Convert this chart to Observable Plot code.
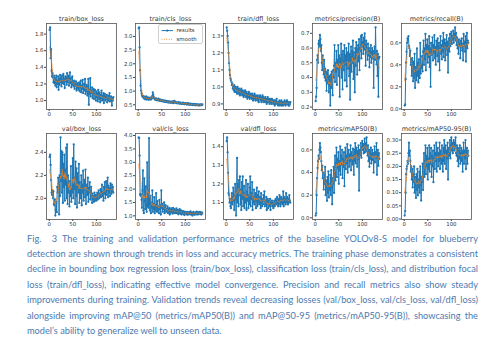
<!DOCTYPE html>
<html><head><meta charset="utf-8">
<script src="https://cdn.jsdelivr.net/npm/d3@7"></script>
<script src="https://cdn.jsdelivr.net/npm/@observablehq/plot@0.6"></script>
<style>
html,body{margin:0;padding:0;background:#fff;}
#wrap{position:relative;width:502px;height:346px;overflow:hidden;background:#fff;}
.panel{position:absolute;}
.cap{position:absolute;left:27px;font-family:Lato,"Open Sans",sans-serif;font-size:9.8px;color:#4d7ab0;white-space:nowrap;transform-origin:0 50%;line-height:15.4px;}
</style></head><body><div id="wrap"></div>
<script>
const titles = ["train/box_loss","train/cls_loss","train/dfl_loss","metrics/precision(B)","metrics/recall(B)",
                "val/box_loss","val/cls_loss","val/dfl_loss","metrics/mAP50(B)","metrics/mAP50-95(B)"];

const trainBox = [1.85,1.88,1.51,1.62,1.36,1.29,1.33,1.28,1.22,1.30,
1.21,1.27,1.18,1.25,1.30,1.16,1.24,1.20,1.29,1.13,
1.26,1.19,1.31,1.22,1.27,1.17,1.30,1.24,1.21,1.32,
1.20,1.26,1.15,1.29,1.23,1.28,1.19,1.33,1.22,1.26,
1.30,1.18,1.25,1.34,1.21,1.27,1.16,1.23,1.29,1.19,
1.22,1.17,1.24,1.14,1.20,1.18,1.23,1.12,1.19,1.15,
1.21,1.13,1.17,1.22,1.11,1.16,1.24,1.10,1.18,1.14,
1.25,1.09,1.15,1.20,1.12,1.26,1.08,1.14,1.19,1.11,
1.06,1.17,1.26,0.95,1.13,1.08,1.27,1.05,1.12,1.09,
1.16,1.03,1.10,1.14,1.02,1.08,1.13,1.06,1.00,1.11,
1.04,1.09,0.99,1.13,1.05,1.02,1.10,0.98,1.07,1.03,
1.12,1.00,1.06,1.01,1.09,0.97,1.04,1.08,1.00,1.05,
1.02,1.07,0.98,1.03,1.06,1.00,1.04,1.09,0.99,1.02,
1.05,1.01,0.94,1.03,1.00,1.04];

const trainCls = [3.30,3.33,2.60,1.76,1.20,1.02,0.92,0.85,0.80,0.78,
0.82,0.75,0.72,0.79,0.70,0.74,0.81,0.69,0.73,0.77,
0.71,0.68,0.76,0.72,0.70,0.74,0.69,0.78,0.73,0.82,
0.95,0.86,0.78,0.74,0.70,0.72,0.68,0.73,0.67,0.71,
0.69,0.66,0.72,0.68,0.65,0.70,0.64,0.68,0.66,0.63,
0.67,0.64,0.62,0.66,0.63,0.61,0.65,0.62,0.60,0.64,
0.61,0.59,0.63,0.60,0.58,0.62,0.59,0.61,0.57,0.60,
0.58,0.62,0.57,0.59,0.56,0.64,0.60,0.58,0.61,0.57,
0.59,0.56,0.58,0.55,0.57,0.60,0.56,0.54,0.58,0.55,
0.57,0.53,0.56,0.54,0.58,0.53,0.55,0.52,0.56,0.54,
0.53,0.55,0.51,0.54,0.52,0.56,0.51,0.53,0.50,0.54,
0.52,0.50,0.53,0.51,0.49,0.52,0.50,0.53,0.49,0.51,
0.50,0.48,0.52,0.50,0.49,0.51,0.48,0.50,0.47,0.50,
0.49,0.51,0.48,0.50,0.49,0.51];

const trainDfl = [1.35,1.33,1.30,1.26,1.20,1.14,1.10,1.07,1.05,1.04,
1.03,1.01,1.02,0.99,1.00,0.98,1.01,0.97,0.99,1.00,
0.97,0.99,0.96,1.00,0.98,0.96,0.99,0.97,0.95,0.98,
0.96,0.99,0.97,0.95,0.98,0.96,0.94,0.97,0.95,0.98,
0.96,0.94,0.97,0.95,0.93,0.96,0.94,0.97,0.95,0.93,
0.96,0.94,0.95,0.93,0.96,0.94,0.92,0.95,0.93,0.96,
0.94,0.92,0.95,0.93,0.94,0.92,0.95,0.93,0.91,0.94,
0.93,0.95,0.92,0.94,0.91,0.93,0.95,0.92,0.94,0.91,
0.93,0.92,0.94,0.91,0.93,0.90,0.92,0.94,0.91,0.93,
0.92,0.90,0.93,0.91,0.92,0.90,0.93,0.91,0.92,0.90,
0.92,0.91,0.89,0.92,0.90,0.91,0.93,0.90,0.91,0.89,
0.91,0.90,0.92,0.89,0.91,0.90,0.92,0.89,0.91,0.90,
0.89,0.91,0.90,0.92,0.90,0.89,0.91,0.90,0.92,0.91,
0.90,0.89,0.91,0.89,0.90,0.91];

const precision = [0.24,0.27,0.33,0.52,0.55,0.50,0.63,0.65,0.61,0.69,
0.66,0.58,0.62,0.50,0.45,0.55,0.48,0.42,0.52,0.40,
0.46,0.38,0.44,0.31,0.43,0.36,0.45,0.40,0.30,0.41,
0.35,0.21,0.42,0.33,0.44,0.38,0.28,0.45,0.40,0.48,
0.62,0.37,0.50,0.44,0.58,0.35,0.52,0.46,0.62,0.41,
0.55,0.27,0.53,0.47,0.63,0.40,0.56,0.32,0.58,0.50,
0.45,0.62,0.38,0.55,0.49,0.60,0.34,0.57,0.52,0.46,
0.63,0.41,0.56,0.25,0.54,0.61,0.44,0.58,0.50,0.65,
0.39,0.57,0.53,0.30,0.60,0.48,0.64,0.55,0.42,0.59,
0.62,0.51,0.66,0.45,0.60,0.58,0.68,0.53,0.69,0.61,
0.64,0.56,0.67,0.59,0.70,0.62,0.48,0.65,0.60,0.57,
0.52,0.63,0.55,0.60,0.47,0.58,0.54,0.62,0.50,0.57,
0.60,0.53,0.58,0.33,0.56,0.61,0.52,0.74,0.55,0.49,
0.58,0.41,0.56,0.27,0.53,0.54];

const recall = [0.03,0.04,0.27,0.42,0.52,0.60,0.64,0.62,0.66,0.57,
0.55,0.48,0.53,0.40,0.45,0.30,0.46,0.35,0.25,0.43,
0.28,0.50,0.19,0.38,0.33,0.26,0.55,0.30,0.42,0.24,
0.45,0.35,0.28,0.60,0.32,0.40,0.37,0.48,0.34,0.52,
0.62,0.40,0.55,0.45,0.68,0.35,0.58,0.50,0.63,0.42,
0.57,0.47,0.66,0.38,0.55,0.20,0.60,0.49,0.53,0.65,
0.44,0.58,0.51,0.67,0.46,0.56,0.40,0.62,0.53,0.48,
0.64,0.43,0.57,0.60,0.35,0.55,0.66,0.50,0.58,0.45,
0.62,0.52,0.69,0.47,0.56,0.63,0.44,0.60,0.54,0.67,
0.49,0.61,0.33,0.58,0.64,0.52,0.68,0.57,0.62,0.70,
0.59,0.66,0.63,0.71,0.60,0.68,0.64,0.74,0.62,0.69,
0.58,0.65,0.55,0.61,0.50,0.63,0.57,0.60,0.46,0.62,
0.56,0.64,0.53,0.59,0.44,0.68,0.57,0.61,0.52,0.66,
0.43,0.58,0.69,0.55,0.62,0.60];

const valBox = [2.36,2.38,2.29,2.16,2.05,2.03,2.07,2.00,2.06,1.95,
1.94,1.99,1.85,1.90,1.97,1.88,2.10,2.05,2.18,2.13,
1.86,2.20,2.02,2.53,2.15,2.41,2.05,2.40,1.96,2.30,
2.10,2.38,1.98,2.25,2.12,2.44,2.00,2.47,1.95,2.20,
2.05,2.15,1.93,2.10,2.02,2.28,1.97,2.12,2.05,2.35,
2.00,2.47,2.08,2.18,1.95,2.32,2.02,2.26,1.92,2.22,
2.10,2.05,2.30,1.96,2.14,2.08,2.00,2.20,1.94,2.12,
2.05,2.24,1.98,2.10,2.16,2.01,2.25,1.95,2.08,2.12,
2.03,2.18,1.97,2.09,2.05,2.14,1.99,2.06,2.10,2.02,
1.96,2.04,1.99,2.02,1.97,2.05,1.98,2.00,2.03,1.98,
2.01,2.05,1.99,2.03,2.07,2.00,2.04,2.02,2.08,2.01,
2.06,2.12,2.02,2.05,1.98,2.10,2.04,2.14,2.00,2.08,
2.15,2.03,2.07,2.18,2.01,2.11,2.05,2.09,2.02,2.13,
2.08,2.04,2.12,2.06,2.10,2.05];

const valCls = [3.93,3.90,3.25,1.80,1.75,1.82,1.60,1.30,1.95,2.70,
1.20,1.10,2.40,1.55,1.25,2.10,1.40,1.15,3.00,1.35,
1.90,1.30,3.90,1.45,1.20,1.75,1.10,1.50,1.30,1.95,
1.15,1.45,1.25,1.70,1.10,1.40,1.20,1.85,1.30,1.15,
1.55,1.20,1.35,1.10,1.60,1.25,1.40,1.05,1.95,1.30,
1.45,1.15,1.35,1.25,1.50,1.10,1.30,1.40,1.15,1.25,
1.20,1.35,1.10,1.25,1.15,1.30,1.05,1.20,1.12,1.28,
1.15,1.22,1.08,1.30,1.12,1.18,1.25,1.10,1.20,1.14,
1.28,1.10,1.16,1.22,1.06,1.18,1.12,1.25,1.08,1.15,
1.20,1.05,1.14,1.10,1.18,1.07,1.12,1.03,1.16,1.09,
1.13,1.06,1.11,1.15,1.04,1.12,1.08,1.14,1.06,1.10,
1.17,1.05,1.12,1.08,1.01,1.10,1.15,1.06,1.11,1.04,
1.09,1.13,1.07,1.16,1.05,1.10,1.14,1.06,1.12,1.08,
1.15,1.07,1.11,1.05,1.13,1.09];

const valDfl = [1.43,1.45,1.37,1.26,1.15,1.14,1.10,1.12,1.08,1.07,
1.10,1.15,1.09,1.13,1.18,1.11,1.06,1.14,1.20,1.12,
1.03,1.16,1.34,1.10,1.20,1.08,1.22,1.14,1.24,1.09,
1.17,1.06,1.21,1.12,1.24,1.08,1.15,1.19,1.07,1.13,
1.10,1.22,1.06,1.16,1.11,1.20,1.07,1.14,1.09,1.18,
1.24,1.08,1.15,1.12,1.21,1.06,1.13,1.10,1.17,1.09,
1.12,1.15,1.07,1.11,1.18,1.08,1.14,1.10,1.16,1.09,
1.11,1.13,1.07,1.15,1.10,1.08,1.12,1.09,1.14,1.11,
1.16,1.08,1.11,1.09,1.13,1.06,1.10,1.12,1.07,1.11,
1.09,1.08,1.12,1.06,1.10,1.09,1.11,1.08,1.10,1.07,
1.09,1.11,1.08,1.10,1.12,1.09,1.11,1.13,1.10,1.08,
1.12,1.09,1.14,1.11,1.08,1.13,1.10,1.12,1.09,1.11,
1.16,1.08,1.13,1.10,1.12,1.09,1.15,1.11,1.10,1.13,
1.09,1.12,1.10,1.14,1.11,1.10];

const map50 = [0.02,0.04,0.20,0.35,0.44,0.50,0.55,0.52,0.60,0.66,
0.62,0.58,0.50,0.42,0.46,0.35,0.40,0.25,0.38,0.30,
0.45,0.20,0.33,0.28,0.15,0.36,0.22,0.41,0.18,0.30,
0.25,0.38,0.20,0.42,0.27,0.12,0.35,0.30,0.45,0.22,
0.40,0.55,0.33,0.48,0.62,0.36,0.52,0.44,0.58,0.30,
0.50,0.42,0.63,0.38,0.55,0.47,0.60,0.35,0.52,0.45,
0.58,0.28,0.50,0.62,0.43,0.55,0.48,0.65,0.40,0.53,
0.60,0.45,0.56,0.50,0.64,0.42,0.58,0.52,0.47,0.61,
0.55,0.38,0.60,0.50,0.66,0.48,0.57,0.62,0.45,0.59,
0.52,0.64,0.24,0.58,0.60,0.55,0.66,0.53,0.62,0.68,
0.60,0.65,0.57,0.63,0.70,0.58,0.66,0.61,0.71,0.59,
0.55,0.64,0.50,0.60,0.45,0.58,0.52,0.62,0.48,0.56,
0.60,0.51,0.57,0.40,0.55,0.63,0.49,0.58,0.53,0.66,
0.38,0.55,0.60,0.46,0.57,0.52];

const map5095 = [0.013,0.03,0.10,0.17,0.19,0.20,0.22,0.21,0.25,0.29,
0.24,0.26,0.22,0.18,0.20,0.15,0.19,0.12,0.17,0.14,
0.20,0.10,0.16,0.13,0.08,0.17,0.11,0.19,0.09,0.15,
0.12,0.18,0.10,0.20,0.13,0.07,0.16,0.14,0.21,0.11,
0.18,0.25,0.16,0.22,0.28,0.17,0.24,0.20,0.27,0.15,
0.23,0.19,0.28,0.18,0.25,0.21,0.27,0.16,0.24,0.20,
0.26,0.14,0.23,0.28,0.19,0.25,0.22,0.29,0.18,0.24,
0.27,0.20,0.25,0.22,0.29,0.19,0.26,0.23,0.21,0.28,
0.24,0.18,0.27,0.22,0.30,0.21,0.25,0.28,0.19,0.26,
0.23,0.29,0.15,0.26,0.27,0.24,0.30,0.23,0.28,0.31,
0.26,0.29,0.25,0.28,0.30,0.26,0.29,0.27,0.31,0.25,
0.24,0.28,0.22,0.27,0.20,0.26,0.23,0.28,0.21,0.25,
0.27,0.22,0.26,0.18,0.25,0.29,0.21,0.26,0.23,0.30,
0.19,0.25,0.27,0.21,0.26,0.24];

const xTicks = [0, 50, 100];
const yTicks = [
  [1.0,1.2,1.4,1.6,1.8],
  [0.5,1.0,1.5,2.0,2.5,3.0],
  [0.9,1.0,1.1,1.2,1.3],
  [0.2,0.3,0.4,0.5,0.6,0.7],
  [0.0,0.2,0.4,0.6],
  [2.0,2.2,2.4],
  [1.0,1.5,2.0,2.5,3.0,3.5,4.0],
  [1.1,1.2,1.3,1.4],
  [0.0,0.2,0.4,0.6],
  [0.00,0.05,0.10,0.15,0.20,0.25,0.30]
];
const yFormats = [".1f",".1f",".1f",".1f",".1f",".1f",".1f",".1f",".1f",".2f"];
const series = [trainBox, trainCls, trainDfl, precision, recall, valBox, valCls, valDfl, map50, map5095];
const legendLabels = ["results", "smooth"];

const captionLines = [
  "Fig.\u00a0 3 The training and validation performance metrics of the baseline YOLOv8-S model for blueberry",
  "detection are shown through trends in loss and accuracy metrics. The training phase demonstrates a consistent",
  "decline in bounding box regression loss (train/box_loss), classification loss (train/cls_loss), and distribution focal",
  "loss (train/dfl_loss), indicating effective model convergence. Precision and recall metrics also show steady",
  "improvements during training. Validation trends reveal decreasing losses (val/box_loss, val/cls_loss, val/dfl_loss)",
  "alongside improving mAP@50 (metrics/mAP50(B)) and mAP@50-95 (metrics/mAP50-95(B)), showcasing the",
  "model\u2019s ability to generalize well to unseen data."
];

// ---- layout ----
const wrap = document.getElementById("wrap");
const frameLefts = [46, 135, 223, 312, 401];
const frameTops = [23, 133];
const FW = 70, FH = 86;
const mL = 25, mR = 9, mT = 14, mB = 12;
const BLUE = "#1f77b4", ORANGE = "#ff7f0e";

series.forEach((values, idx) => {
  const col = idx % 5, row = Math.floor(idx / 5);
  const data = values.map((v, i) => ({epoch: i + 1, value: v}));
  const x0 = 1, x1 = values.length, xr = x1 - x0;
  const y0 = d3.min(values), y1 = d3.max(values), yr = y1 - y0;
  const chart = Plot.plot({
    width: mL + FW + mR, height: mT + FH + mB,
    marginLeft: mL, marginRight: mR, marginTop: mT, marginBottom: mB,
    style: {background: "transparent", fontFamily: "DejaVu Sans", fontSize: "5.4px", color: "#333", overflow: "visible"},
    x: {domain: [x0 - 0.05 * xr, x1 + 0.05 * xr]},
    y: {domain: [y0 - 0.05 * yr, y1 + 0.05 * yr]},
    marks: [
      Plot.axisX({ticks: xTicks, tickSize: 2, tickPadding: 1, label: null, tickFormat: "d", fontSize: 5.4, stroke: "#444"}),
      Plot.axisY({ticks: yTicks[idx], tickSize: 2, tickPadding: 1, label: null, tickFormat: d3.format(yFormats[idx]), fontSize: 5.4, stroke: "#444"}),
      Plot.lineY(data, {x: "epoch", y: "value", stroke: BLUE, strokeWidth: 1}),
      Plot.dot(data, {x: "epoch", y: "value", r: 1.15, fill: BLUE, stroke: null}),
      Plot.lineY(data, Plot.windowY({k: 9, reduce: "mean", strict: false},
        {x: "epoch", y: "value", stroke: ORANGE, strokeWidth: 0.9, strokeDasharray: "0.9,1.5", strokeOpacity: 0.9})),
      Plot.frame({stroke: "#555", strokeWidth: 0.8}),
      Plot.text([titles[idx]], {text: d => d, frameAnchor: "top", dy: -3, lineAnchor: "bottom", fontSize: 6.5, fontWeight: 400, fill: "#3a3a3a"})
    ]
  });
  const div = document.createElement("div");
  div.className = "panel";
  div.style.left = (frameLefts[col] - mL) + "px";
  div.style.top = (frameTops[row] - mT) + "px";
  div.style.width = (mL + FW + mR) + "px";
  div.style.height = (mT + FH + mB) + "px";
  div.appendChild(chart);
  wrap.appendChild(div);
});

// ---- legend (train/cls_loss panel) ----
const leg = document.createElement("div");
leg.style.cssText = "position:absolute;left:158px;top:24px;width:45px;height:20px;border:0.7px solid #d0d0d0;border-radius:2px;background:rgba(255,255,255,0.85);box-sizing:border-box;";
leg.innerHTML = `<svg width="45" height="20" style="display:block;font-family:'DejaVu Sans';font-size:5.4px;fill:#333">
<line x1="2.5" y1="5.6" x2="14" y2="5.6" stroke="${BLUE}" stroke-width="1"/>
<circle cx="8.2" cy="5.6" r="1.15" fill="${BLUE}"/>
<text x="17.5" y="7.4">${legendLabels[0]}</text>
<line x1="2.5" y1="14.3" x2="14" y2="14.3" stroke="${ORANGE}" stroke-width="0.9" stroke-dasharray="0.9,1.5"/>
<text x="17.5" y="16.1">${legendLabels[1]}</text></svg>`;
wrap.appendChild(leg);

// ---- caption ----
const capTop = 230.5, capLH = 15.4, capWidth = 451;
const capDivs = captionLines.map((t, i) => {
  const d = document.createElement("div");
  d.className = "cap";
  d.textContent = t;
  d.style.top = (capTop + i * capLH) + "px";
  wrap.appendChild(d);
  return d;
});
const widths = capDivs.map(d => d.getBoundingClientRect().width);
const s = Math.min(1, ...widths.slice(0, 6).map(w => capWidth / w)) * 0.99;
capDivs.forEach((d, i) => {
  d.style.transform = `scaleX(${s})`;
  if (i < 6) {
    d.style.width = (capWidth / s) + "px";
    d.style.textAlign = "justify";
    d.style.textAlignLast = "justify";
  }
});
</script></body></html>
